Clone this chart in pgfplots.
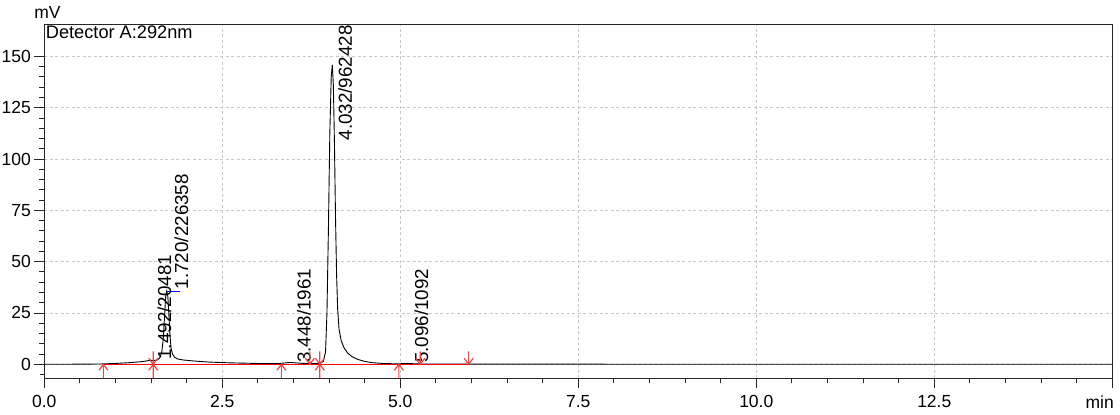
\documentclass[border=0pt]{standalone}
\usepackage{pgfplots}
\pgfplotsset{compat=1.18}
\usepackage{fontspec}
\setmainfont{Liberation Sans}

\pgfdeclareplotmark{upar}{%
 \pgfpathmoveto{\pgfqpoint{0pt}{0pt}}\pgfpathlineto{\pgfqpoint{0pt}{-14pt}}%
 \pgfpathmoveto{\pgfqpoint{-4.5pt}{-6pt}}\pgfpathlineto{\pgfqpoint{0pt}{0pt}}\pgfpathlineto{\pgfqpoint{4.5pt}{-6pt}}%
 \pgfusepathqstroke}
\pgfdeclareplotmark{dnar}{%
 \pgfpathmoveto{\pgfqpoint{0pt}{0pt}}\pgfpathlineto{\pgfqpoint{0pt}{13pt}}%
 \pgfpathmoveto{\pgfqpoint{-4.5pt}{6pt}}\pgfpathlineto{\pgfqpoint{0pt}{0pt}}\pgfpathlineto{\pgfqpoint{4.5pt}{6pt}}%
 \pgfusepathqstroke}
\pgfdeclareplotmark{bothar}{%
 \pgfpathmoveto{\pgfqpoint{0pt}{13pt}}\pgfpathlineto{\pgfqpoint{0pt}{-14pt}}%
 \pgfpathmoveto{\pgfqpoint{-4.5pt}{6pt}}\pgfpathlineto{\pgfqpoint{0pt}{0pt}}\pgfpathlineto{\pgfqpoint{4.5pt}{6pt}}%
 \pgfpathmoveto{\pgfqpoint{-4.5pt}{-6pt}}\pgfpathlineto{\pgfqpoint{0pt}{0pt}}\pgfpathlineto{\pgfqpoint{4.5pt}{-6pt}}%
 \pgfusepathqstroke}

\definecolor{gridgray}{RGB}{200,200,200}
\definecolor{mkred}{RGB}{240,70,70}

\pgfplotstableread{
t v
0 0
0.5 0.05
0.8 0.15
1.0 0.4
1.2 0.8
1.35 1.2
1.45 1.7
1.49 2.0
1.53 1.8
1.58 2.0
1.62 3.0
1.65 6
1.67 12
1.69 24
1.705 33
1.72 35.6
1.735 33
1.75 24
1.765 14
1.78 8
1.80 5
1.83 3.4
1.87 2.6
1.95 2.1
2.1 1.6
2.3 1.1
2.6 0.7
3.0 0.4
3.3 0.4
3.40 0.7
3.45 0.9
3.52 0.7
3.65 0.4
3.80 0.3
3.88 0.5
3.92 1.5
3.95 6
3.97 25
3.99 65
4.01 112
4.03 140
4.045 145.9
4.06 136
4.075 108
4.09 72
4.105 44
4.12 27
4.14 17
4.17 11.5
4.21 8
4.26 5.5
4.32 3.8
4.40 2.4
4.50 1.4
4.60 0.8
4.75 0.4
4.95 0.2
5.05 0.35
5.10 0.45
5.16 0.3
5.3 0.1
6.0 0.05
15 0
}\signal

\begin{document}
\begin{tikzpicture}
\path[use as bounding box] (0pt,0pt) rectangle (1120pt,415pt);
\begin{axis}[
  at={(44.3pt,36.7pt)}, anchor=south west,
  scale only axis, width=1068pt, height=353.6pt,
  xmin=0, xmax=15, ymin=-6.83, ymax=165.46,
  clip=false,
  axis line style={black!85, line width=0.9pt},
  xtick={0,2.5,5,7.5,10,12.5,15},
  xticklabels={0.0,2.5,5.0,7.5,10.0,12.5,},
  ytick={0,25,50,75,100,125,150},
  yticklabels={0,25,50,75,100,125,150},
  minor x tick num=4, minor y tick num=4,
  extra y ticks={-5}, extra y tick style={grid=none, major tick length=4.5pt},
  extra y tick labels={},
  tick pos=left, tick align=outside,
  major tick length=10pt, minor tick length=5pt,
  every tick/.style={black!85, line width=0.9pt},
  tick label style={font=\fontsize{17.5pt}{20pt}\selectfont},
  xticklabel style={yshift=-3.5pt},
  grid=major,
  major grid style={gridgray, dash pattern=on 3pt off 2.5pt, line width=0.8pt},
]
\addplot[black, line width=0.9pt] table[x=t,y=v]{\signal};
\addplot[red, line width=1.3pt] coordinates {(0.83,0) (5.96,0)};
\addplot[blue, line width=1pt] coordinates {(1.72,35.6) (1.9,35.6)};
\addplot[only marks, mark=upar, mkred, line width=1.2pt] coordinates {(0.83,0) (3.33,0) (4.98,0)};
\addplot[only marks, mark=dnar, mkred, line width=1.2pt] coordinates {(3.73,0) (5.28,0) (5.96,0)};
\addplot[only marks, mark=bothar, mkred, line width=1.2pt] coordinates {(1.53,0) (3.87,0)};
\begin{scope}[every node/.style={rotate=90, inner sep=0pt, font=\fontsize{18.8pt}{21pt}\selectfont}]
\node[anchor=base west] at (axis cs:1.78,2.2) {1.492/20481};
\node[anchor=base west] at (axis cs:2.02,36.5) {1.720/226358};
\node[anchor=base west] at (axis cs:3.74,0.6) {3.448/1961};
\node[anchor=base east] at (axis cs:4.32,165.2) {4.032/962428};
\node[anchor=base west] at (axis cs:5.39,0.6) {5.096/1092};
\end{scope}
\node[anchor=base west, inner sep=0pt, font=\fontsize{18.2pt}{21pt}\selectfont] at (axis cs:0.02,158.7) {Detector A:292nm};
\end{axis}
\node[anchor=base, inner sep=0pt, font=\fontsize{17.5pt}{20pt}\selectfont] at (47.5pt,396pt) {mV};
\node[anchor=base east, inner sep=0pt, font=\fontsize{17.5pt}{20pt}\selectfont] at (1114pt,6pt) {min};
\end{tikzpicture}
\end{document}
